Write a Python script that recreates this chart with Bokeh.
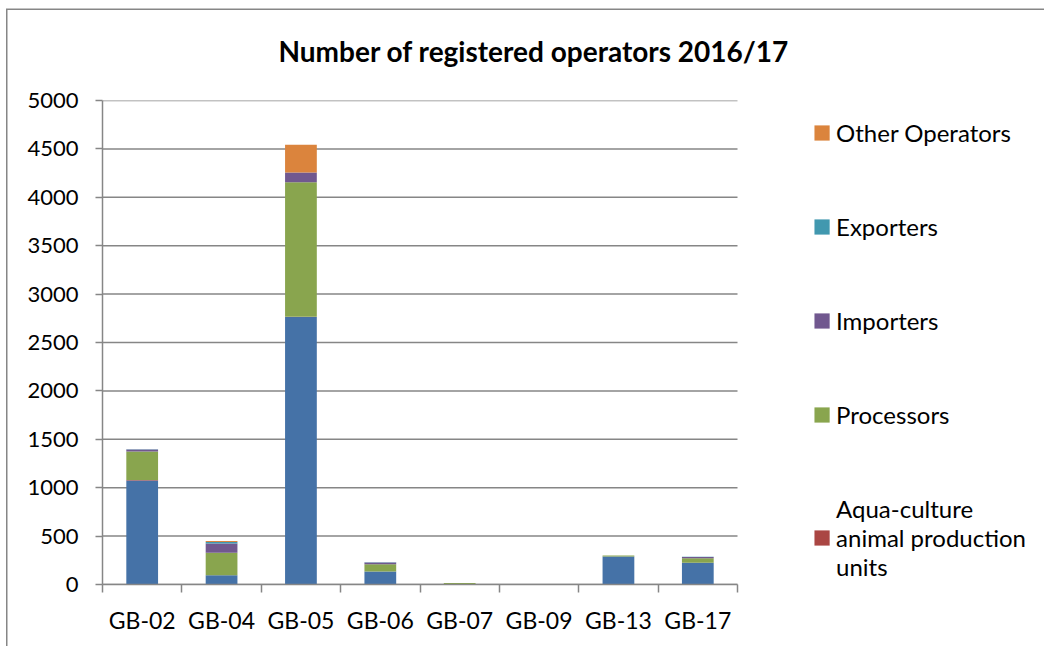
from bokeh.plotting import figure
from bokeh.models import (ColumnDataSource, Legend, LegendItem, LinearAxis,
                          Range1d, FixedTicker)
from bokeh.embed import file_html
from bokeh.resources import INLINE

categories = ["GB-02", "GB-04", "GB-05", "GB-06", "GB-07", "GB-09", "GB-13", "GB-17"]
production_businesses = [1075, 96, 2763, 135, 3, 0, 290, 225]
aquaculture_units = [4, 0, 2, 0, 0, 0, 0, 0]
processors = [295, 231, 1391, 75, 12, 2, 9, 47]
importers = [20, 96, 100, 18, 1, 0, 0, 12]
exporters = [3, 17, 0, 3, 0, 0, 0, 2]
other_operators = [0, 10, 286, 0, 0, 0, 0, 0]
y_ticks = list(range(0, 5001, 500))

series_keys = ["production", "aqua", "proc", "imp", "exp", "other"]
series_colors = ["#4572A7", "#AA4643", "#89A54E", "#71588F", "#4198AF", "#DB843D"]

n = len(categories)
centers = [i + 0.5 for i in range(n)]
source = ColumnDataSource(dict(x=centers, cat=categories, production=production_businesses,
                               aqua=aquaculture_units, proc=processors, imp=importers,
                               exp=exporters, other=other_operators))

FONT = "Lato"
GRID = "#868686"

# layout: the frame spans the bar area and the legend area to its right
W, H = 1044, 646
LEFT, TOP, BOTTOM = 102, 100, 62
BAR_AREA_PX = 635
frame_px = W - LEFT
x_end = n * frame_px / BAR_AREA_PX

p = figure(x_range=Range1d(0, x_end), y_range=Range1d(0, 5000),
           width=W, height=H, output_backend="svg", toolbar_location=None,
           x_axis_location=None,
           min_border_left=LEFT, min_border_right=0, min_border_top=TOP, min_border_bottom=BOTTOM)

p.border_fill_color = None
p.outline_line_color = None
p.styles = {"box-shadow": "inset 6px 8.5px 0 0 #ffffff, inset 7.5px 10px 0 0 #868686"}

# horizontal gridlines limited to the bar area
p.segment(x0=[0] * len(y_ticks), x1=[n] * len(y_ticks), y0=y_ticks, y1=y_ticks,
          line_color=GRID, line_width=1.5)

renderers = p.vbar_stack(series_keys, x="x", width=0.4, color=series_colors,
                         line_color=None, source=source)

# title
p.title.text = "Number of registered operators 2016/17"
p.title.align = "left"
p.title.offset = 176
p.title.vertical_align = "middle"
p.title.text_font = FONT
p.title.text_font_size = "28px"
p.title.text_font_style = "bold"
p.title.text_color = "#000000"
p.title.standoff = 64

# y axis
p.yaxis.ticker = FixedTicker(ticks=y_ticks)
p.yaxis.axis_line_color = GRID
p.yaxis.axis_line_width = 1.5
p.yaxis.major_tick_line_color = GRID
p.yaxis.major_tick_line_width = 1.5
p.yaxis.major_tick_out = 7
p.yaxis.major_tick_in = 0
p.yaxis.minor_tick_line_color = None
p.yaxis.major_label_text_font = FONT
p.yaxis.major_label_text_font_size = "22px"
p.yaxis.major_label_text_color = "#000000"
p.yaxis.major_label_standoff = 17

p.xgrid.visible = False
p.ygrid.visible = False

# x axis: boundary ticks + category labels
bounds = list(range(n + 1))
bnd_axis = LinearAxis(ticker=FixedTicker(ticks=bounds), bounds=(0, n),
                      major_label_text_font_size="0px", major_label_standoff=0,
                      major_label_overrides={b: "" for b in bounds},
                      major_tick_out=8, major_tick_in=0, minor_tick_line_color=None,
                      axis_line_color=GRID, axis_line_width=1.5,
                      major_tick_line_color=GRID, major_tick_line_width=1.5)
p.add_layout(bnd_axis, "below")
cat_axis = LinearAxis(ticker=FixedTicker(ticks=centers), bounds=(0, n),
                      major_label_overrides={c: lab for c, lab in zip(centers, categories)},
                      axis_line_color=None, major_tick_line_color=None,
                      minor_tick_line_color=None, major_label_standoff=7,
                      major_label_text_font=FONT, major_label_text_font_size="23px",
                      major_label_text_color="#000000")
p.add_layout(cat_axis, "below")

# legend (blue series entry is cut off in the original)
names = {1: "Aqua-culture\nanimal production\nunits", 2: "Processors", 3: "Importers",
         4: "Exporters", 5: "Other Operators"}
items = [LegendItem(label=names[i], renderers=[renderers[i]]) for i in [5, 4, 3, 2, 1]]
legend = Legend(items=items, location="top_right", glyph_width=19, glyph_height=19,
                label_standoff=5, spacing=65, padding=0, margin=18,
                border_line_color=None, background_fill_alpha=0,
                label_text_font=FONT, label_text_font_size="24px", label_text_color="#000000")
p.add_layout(legend)

open("out.html", "w").write(file_html(p, INLINE))
